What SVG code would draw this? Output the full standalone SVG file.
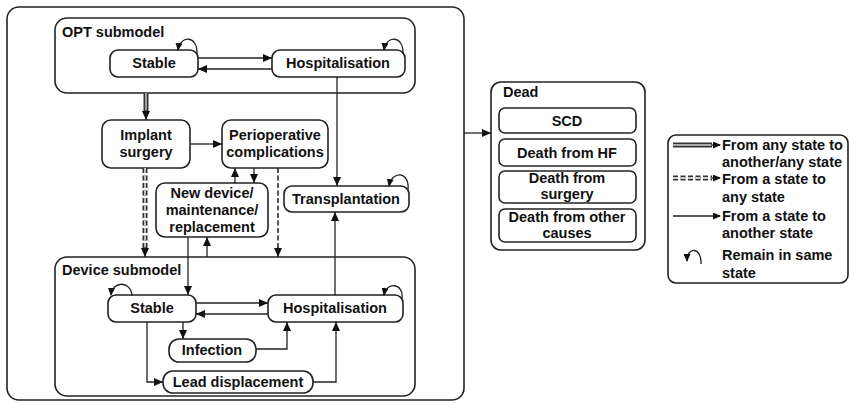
<svg xmlns="http://www.w3.org/2000/svg" width="850" height="403" viewBox="0 0 850 403">
<defs>
<style>
.box{fill:#fff;stroke:#222;stroke-width:1.6}
.grp{fill:none;stroke:#222;stroke-width:1.6}
.t{font-family:"Liberation Sans",Arial,sans-serif;font-weight:bold;font-size:14.5px;fill:#111}
.c{text-anchor:middle}
.ln{fill:none;stroke:#222;stroke-width:1.3}
.dblo{fill:none;stroke:#333;stroke-width:5}
.dbli{fill:none;stroke:#aaa;stroke-width:1.8}
.dsho{fill:none;stroke:#333;stroke-width:5;stroke-dasharray:5 2.5}
.dshi{fill:none;stroke:#ccc;stroke-width:1.8;stroke-dasharray:5 2.5}
.dsh1{fill:none;stroke:#222;stroke-width:1.5;stroke-dasharray:5 2.5}
</style>
<marker id="ah" markerUnits="userSpaceOnUse" markerWidth="9" markerHeight="8" refX="9" refY="4" orient="auto"><path d="M0,0 L9,4 L0,8 z" fill="#111"/></marker>
<marker id="ahs" markerUnits="userSpaceOnUse" markerWidth="8" markerHeight="7" refX="7" refY="3.5" orient="auto"><path d="M0,0 L8,3.5 L0,7 z" fill="#111"/></marker>
</defs>
<rect x="0" y="0" width="850" height="403" fill="#fff"/>
<rect id="outer" class="grp" x="7" y="7" width="457" height="393" rx="12" stroke-width="2"/>

<g id="opt-submodel">
<rect class="grp" x="55" y="18" width="360" height="75" rx="12"/>
<text class="t" x="62" y="37">OPT submodel</text>
</g>
<g id="opt-stable"><rect class="box" x="110" y="50" width="88" height="27" rx="8"/><text class="t c" x="154" y="68">Stable</text></g>
<g id="opt-hosp"><rect class="box" x="272" y="50" width="133" height="27" rx="8"/><text class="t c" x="338" y="68">Hospitalisation</text></g>

<g id="implant"><rect class="box" x="102" y="120" width="88" height="48" rx="9"/><text class="t c" x="146" y="140">Implant</text><text class="t c" x="146" y="157">surgery</text></g>
<g id="periop"><rect class="box" x="222" y="120" width="106" height="48" rx="9"/><text class="t c" x="275" y="140">Perioperative</text><text class="t c" x="275" y="157">complications</text></g>
<g id="newdevice"><rect class="box" x="156" y="183" width="112" height="54" rx="9"/><text class="t c" x="212" y="198">New device/</text><text class="t c" x="212" y="215">maintenance/</text><text class="t c" x="212" y="232">replacement</text></g>
<g id="transplantation"><rect class="box" x="284" y="186" width="125" height="26" rx="8"/><text class="t c" x="346" y="204">Transplantation</text></g>

<g id="device-submodel">
<rect class="grp" x="55" y="257" width="360" height="139" rx="12"/>
<text class="t" x="62" y="275">Device submodel</text>
</g>
<g id="dev-stable"><rect class="box" x="108" y="295" width="88" height="27" rx="8"/><text class="t c" x="152" y="313">Stable</text></g>
<g id="dev-hosp"><rect class="box" x="268" y="295" width="135" height="27" rx="8"/><text class="t c" x="335" y="313">Hospitalisation</text></g>
<g id="infection"><rect class="box" x="169" y="339" width="87" height="23" rx="10"/><text class="t c" x="212" y="355">Infection</text></g>
<g id="lead"><rect class="box" x="163" y="371" width="150" height="22" rx="10"/><text class="t c" x="238" y="387">Lead displacement</text></g>

<g id="dead">
<rect class="grp" x="491" y="82" width="154" height="168" rx="10"/>
<text class="t" x="503" y="97">Dead</text>
</g>
<g id="scd"><rect class="box" x="499" y="108" width="137" height="25" rx="6"/><text class="t c" x="567" y="126">SCD</text></g>
<g id="death-hf"><rect class="box" x="499" y="139" width="137" height="27" rx="6"/><text class="t c" x="567" y="158">Death from HF</text></g>
<g id="death-surgery"><rect class="box" x="499" y="171" width="137" height="32" rx="6"/><text class="t c" x="567" y="183">Death from</text><text class="t c" x="567" y="199">surgery</text></g>
<g id="death-other"><rect class="box" x="499" y="209" width="137" height="33" rx="6"/><text class="t c" x="567" y="222">Death from other</text><text class="t c" x="567" y="238">causes</text></g>

<g id="legend">
<rect class="grp" x="668" y="135" width="180" height="148" rx="8"/>
<line class="dblo" x1="673" y1="145" x2="712" y2="145" stroke-width="4"/>
<line class="dbli" x1="673" y1="145" x2="712" y2="145"/>
<line class="ln" x1="711" y1="145" x2="720" y2="145" marker-end="url(#ahs)"/>
<line class="dsho" x1="673" y1="178" x2="712" y2="178" stroke-width="4"/>
<line class="dshi" x1="673" y1="178" x2="712" y2="178"/>
<line class="ln" x1="711" y1="178" x2="720" y2="178" marker-end="url(#ahs)"/>
<line class="ln" x1="673" y1="216" x2="720" y2="216" marker-end="url(#ahs)"/>
<path class="ln" d="M701,264 C702,247 687,246 687,261" marker-end="url(#ahs)"/>
<text class="t" x="722" y="150">From any state to</text>
<text class="t" x="722" y="167">another/any state</text>
<text class="t" x="722" y="184">From a state to</text>
<text class="t" x="722" y="202">any state</text>
<text class="t" x="722" y="221">From a state to</text>
<text class="t" x="722" y="238">another state</text>
<text class="t" x="722" y="260">Remain in same</text>
<text class="t" x="722" y="278">state</text>
</g>

<g id="connectors">
<line class="ln" x1="198" y1="58" x2="272" y2="58" marker-end="url(#ah)"/>
<line class="ln" x1="272" y1="69" x2="198" y2="69" marker-end="url(#ah)"/>
<path class="ln" d="M197,54 C198,35 180,35 178,50" marker-end="url(#ahs)"/>
<path class="ln" d="M403,54 C404,35 386,35 384,50" marker-end="url(#ahs)"/>
<line class="ln" x1="337" y1="77" x2="337" y2="186" marker-end="url(#ah)"/>
<line class="dblo" x1="146" y1="93" x2="146" y2="112" stroke-width="4.5"/>
<line class="dbli" x1="146" y1="93" x2="146" y2="112"/>
<line class="ln" x1="146" y1="110" x2="146" y2="120" marker-end="url(#ah)"/>
<line class="ln" x1="190" y1="144" x2="222" y2="144" marker-end="url(#ah)"/>
<line class="ln" x1="235" y1="183" x2="235" y2="168" marker-end="url(#ah)"/>
<line class="ln" x1="254" y1="168" x2="254" y2="183" marker-end="url(#ah)"/>
<line class="dsho" x1="145" y1="168" x2="145" y2="249" stroke-width="4.5"/>
<line class="dshi" x1="145" y1="168" x2="145" y2="249"/>
<line class="ln" x1="145" y1="247" x2="145" y2="257" marker-end="url(#ah)"/>
<line class="dsh1" x1="278" y1="168" x2="278" y2="249" stroke-width="2.5"/>
<line class="ln" x1="278" y1="247" x2="278" y2="257" marker-end="url(#ah)"/>
<line class="ln" x1="188" y1="237" x2="188" y2="295" marker-end="url(#ah)"/>
<line class="ln" x1="207" y1="257" x2="207" y2="237" marker-end="url(#ah)"/>
<line class="ln" x1="335" y1="295" x2="335" y2="212" marker-end="url(#ah)"/>
<path class="ln" d="M408,190 C410,171 392,170 389,186" marker-end="url(#ahs)"/>
<line class="ln" x1="196" y1="303" x2="268" y2="303" marker-end="url(#ah)"/>
<line class="ln" x1="268" y1="314" x2="196" y2="314" marker-end="url(#ah)"/>
<path class="ln" d="M132,296 C131,280 112,281 111,295" marker-end="url(#ahs)"/>
<path class="ln" d="M402,299 C404,282 386,282 384,295" marker-end="url(#ahs)"/>
<line class="ln" x1="183" y1="322" x2="183" y2="339" marker-end="url(#ah)"/>
<polyline class="ln" points="256,349 287,349 287,322" marker-end="url(#ah)"/>
<polyline class="ln" points="147,322 147,382 163,382" marker-end="url(#ah)"/>
<polyline class="ln" points="313,382 336,382 336,322" marker-end="url(#ah)"/>
<line class="ln" x1="464" y1="133" x2="491" y2="133" marker-end="url(#ah)"/>
</g>
</svg>
